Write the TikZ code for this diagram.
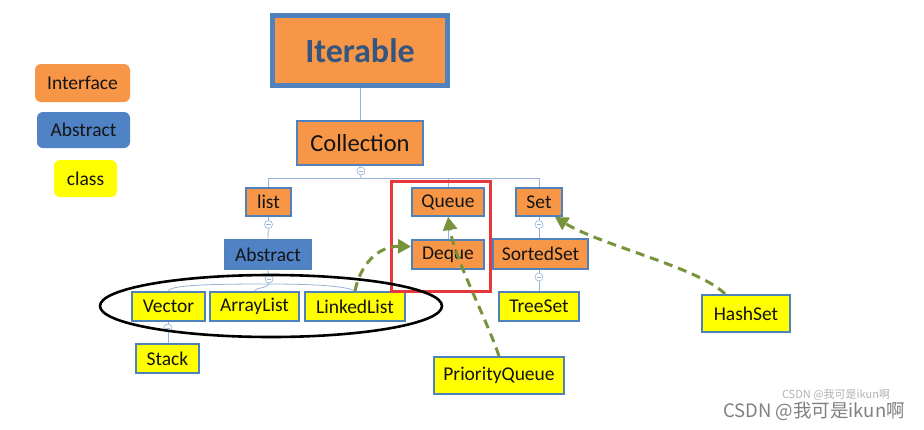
\documentclass[tikz,border=0pt]{standalone}
\usepackage{fontspec}
\setmainfont{Carlito}
\newfontfamily\cjkfont{Noto Sans CJK SC}
\usetikzlibrary{arrows.meta,shapes.geometric}
\definecolor{ifaceorange}{RGB}{247,150,70}
\definecolor{boxblue}{RGB}{79,129,189}
\definecolor{absblue}{RGB}{79,131,198}
\definecolor{clsyellow}{RGB}{255,255,0}
\definecolor{linkblue}{RGB}{149,179,215}
\definecolor{olivearrow}{RGB}{119,147,60}
\definecolor{framered}{RGB}{228,56,60}
\definecolor{textdark}{RGB}{20,20,20}
\definecolor{iterblue}{RGB}{52,85,127}
\tikzset{
  basebox/.style={draw=boxblue, line width=2pt, inner sep=0pt, text=textdark, font=\fontsize{19.5}{21}\selectfont},
  ifacebox/.style={basebox, fill=ifaceorange},
  absbox/.style={basebox, fill=absblue},
  clsbox/.style={basebox, fill=clsyellow},
  legendbox/.style={rounded corners=6pt, inner sep=0pt, text=textdark, font=\fontsize{19.5}{21}\selectfont},
  link/.style={draw=linkblue, line width=0.8pt},
  foldmark/.style={circle, draw=linkblue, fill=white, minimum size=8pt, inner sep=0pt, line width=0.6pt,
    path picture={\draw[linkblue, line width=0.5pt] ([xshift=-2.2pt]path picture bounding box.center) -- ([xshift=2.2pt]path picture bounding box.center);}},
  dasharrow/.style={draw=olivearrow, line width=3pt, dash pattern=on 9pt off 6pt, -{Triangle[length=13pt,width=14pt]}},
}
\begin{document}
\begin{tikzpicture}[x=1pt,y=-1pt]
\useasboundingbox (0,0) rectangle (924,429);
\fill[white] (0,0) rectangle (924,429);
% legend
\node[legendbox, fill=ifaceorange, minimum width=95pt, minimum height=38pt] (lgiface) at (82.5,83) {Interface};
\node[legendbox, fill=absblue, minimum width=93pt, minimum height=36pt] (lgabs) at (83.5,130) {Abstract};
\node[legendbox, fill=clsyellow, minimum width=63pt, minimum height=37pt] (lgcls) at (85.5,178.5) {class};
% nodes
\node[ifacebox, line width=4.5pt, minimum width=175pt, minimum height=70pt, text=iterblue, font=\fontsize{34}{36}\selectfont\bfseries] (iter) at (360,50.5) {Iterable};
\node[ifacebox, minimum width=126pt, minimum height=44pt, font=\fontsize{24.5}{26}\selectfont] (coll) at (360,143) {Collection};
\node[ifacebox, minimum width=45pt, minimum height=28pt] (list) at (268.5,202) {list};
\node[ifacebox, minimum width=72pt, minimum height=28pt] (queue) at (448,202) {Queue};
\node[ifacebox, minimum width=46pt, minimum height=28pt] (set) at (539,202) {Set};
\node[absbox, minimum width=86pt, minimum height=29pt] (abstr) at (268,254.5) {Abstract};
\node[ifacebox, minimum width=72pt, minimum height=29pt] (deque) at (448,254.5) {Deque};
\node[ifacebox, minimum width=95pt, minimum height=30pt] (sorted) at (540.5,254) {SortedSet};
\node[clsbox, minimum width=73pt, minimum height=29pt] (vector) at (168.5,306.5) {Vector};
\node[clsbox, minimum width=89pt, minimum height=29pt] (arraylist) at (254.5,306.5) {ArrayList};
\node[clsbox, minimum width=100pt, minimum height=29pt] (linkedlist) at (355,306.5) {LinkedList};
\node[clsbox, minimum width=80pt, minimum height=29pt] (treeset) at (539,306.5) {TreeSet};
\node[clsbox, minimum width=63pt, minimum height=29pt] (stack) at (167.5,358.5) {Stack};
\node[clsbox, minimum width=88pt, minimum height=37pt] (hashset) at (746,313.5) {HashSet};
\node[clsbox, minimum width=130pt, minimum height=37pt] (pq) at (499,375.5) {PriorityQueue};
% tree links
\coordinate (bar) at (361,178);
\coordinate (absbar) at (269,284);
\draw[link] (iter.south) -- (coll.north);
\draw[link] (coll.south) -- (bar);
\draw[link] (list.north) |- (bar -| set.north) -- (set.north);
\draw[link] (queue.north) -- (queue.north |- bar);
\draw[link] (queue.south) -- (deque.north);
\draw[link] (list.south) -- (abstr.north);
\draw[link] (set.south) -- (sorted.north -| set.south);
\draw[link] (sorted.south -| treeset.north) -- (treeset.north);
\draw[link] (vector.south) -- (stack.north -| vector.south);
\draw[link] (abstr.south) -- (absbar);
\draw[link] (vector.north) .. controls (170,285) and (210,284) .. (absbar) .. controls (300,284) and (345,285) .. (linkedlist.north);
\draw[link] (absbar) .. controls (266,289) and (256,287) .. (arraylist.north);
\node[foldmark] (f1) at (361,171) {};
\node[foldmark] (f2) at (268.5,224.5) {};
\node[foldmark] (f3) at (539,224.5) {};
\node[foldmark] (f4) at (539,277) {};
\node[foldmark] (f5) at (269,279) {};
\node[foldmark] (f6) at (168,328) {};
% red frame and ellipse
\draw[framered, line width=3pt] (391,181) rectangle (490,291);
\node[ellipse, draw=black, line width=2.6pt, minimum width=342pt, minimum height=62pt, inner sep=0pt] (grp) at (271,306) {};
% dashed arrows
\draw[dasharrow] (linkedlist.north) .. controls (360,265) and (378,246) .. ([yshift=8pt]deque.west);
\draw[dasharrow] (pq.north) .. controls (485,315) and (455,260) .. (queue.south);
\draw[dasharrow] ([xshift=-21pt]hashset.north) .. controls (700,268) and (600,245) .. ([xshift=16pt]set.south);
% watermark
\node[text=black!30, font=\cjkfont\fontsize{11}{12}\selectfont, inner sep=0pt] (wm2) at (836,395) {CSDN @我可是ikun啊};
\node[text=black!50, font=\cjkfont\fontsize{18.5}{20}\selectfont, inner sep=0pt] (wm1) at (814,411) {CSDN @我可是ikun啊};
\end{tikzpicture}
\end{document}
